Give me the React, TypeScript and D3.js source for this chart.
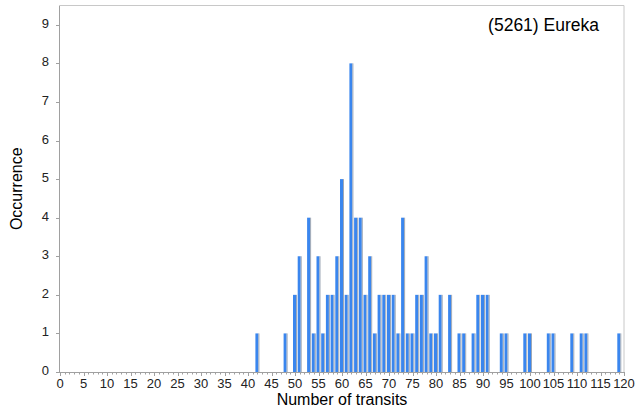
import * as d3 from "d3";

const transits = [42, 48, 50, 51, 53, 54, 55, 56, 57, 58, 59, 60, 61, 62, 63, 64, 65, 66, 67, 68, 69, 70, 71, 72, 73, 74, 75, 76, 77, 78, 79, 80, 81, 83, 85, 86, 88, 89, 90, 91, 94, 95, 99, 100, 104, 105, 109, 111, 112, 119];
const occurrences = [1, 1, 2, 3, 4, 1, 3, 1, 2, 2, 3, 5, 2, 8, 4, 4, 2, 3, 1, 2, 2, 2, 2, 1, 4, 1, 1, 2, 2, 3, 1, 1, 2, 2, 1, 1, 1, 2, 2, 2, 1, 1, 1, 1, 1, 1, 1, 1, 1, 1];
const yTicks = [0, 1, 2, 3, 4, 5, 6, 7, 8, 9];
const xMajorTicks = d3.range(0, 121, 5);
const xMinorTicks = d3.range(0, 121, 1);

const title = "(5261) Eureka";
const xTitle = "Number of transits";
const yTitle = "Occurrence";

const W = 637;
const H = 412;
const margin = { left: 60, right: 13, top: 5.5, bottom: 40 };
const font = "Liberation Sans, Arial, sans-serif";

export default function App() {
  const x = d3.scaleLinear().domain([0, 120]).range([margin.left, W - margin.right]);
  const y = d3.scaleLinear().domain([0, 9.5]).range([H - margin.bottom, margin.top]);
  const x0 = x(0);
  const x1 = x(120);
  const y0 = y(0);
  const yTop = y(9.5);

  const bars = transits.map((t, i) => ({ t, n: occurrences[i] }));

  return (
    <svg width={W} height={H} style={{ position: "absolute", left: 0, top: 0, background: "#fff" }} fontFamily={font}>
      {/* frame */}
      <line x1={x0} x2={x1} y1={yTop} y2={yTop} stroke="#c8c8c8" />
      <line x1={x1} x2={x1} y1={yTop} y2={y0} stroke="#c8c8c8" />

      {/* bars */}
      {bars.map((b) => (
        <g key={b.t}>
          <rect x={x(b.t) - 2} y={y(b.n)} width={3} height={y0 - y(b.n)} fill="#3a86ee" />
          <rect x={x(b.t) + 1} y={y(b.n)} width={1} height={y0 - y(b.n)} fill="#9ea8b6" />
        </g>
      ))}

      {/* y axis */}
      <line x1={x0 - 0.5} x2={x0 - 0.5} y1={yTop} y2={y0} stroke="#a0a0a0" />
      {yTicks.map((v) => (
        <g key={v}>
          <line x1={x0 - 4} x2={x0} y1={Math.round(y(v)) + 0.5} y2={Math.round(y(v)) + 0.5} stroke="#a0a0a0" />
          <text x={49} y={y(v) - 1.5} dy="0.35em" textAnchor="end" fontSize={13} fill="#222">{v}</text>
        </g>
      ))}

      {/* x axis */}
      <line x1={x0} x2={x1} y1={Math.round(y0) + 0.5} y2={Math.round(y0) + 0.5} stroke="#a0a0a0" />
      {xMinorTicks.map((v) => (
        <line key={v} x1={Math.round(x(v)) + 0.5} x2={Math.round(x(v)) + 0.5} y1={y0} y2={y0 + (v % 5 === 0 ? 4 : 2.5)} stroke="#a0a0a0" />
      ))}
      {xMajorTicks.map((v) => (
        <text key={v} x={x(v)} y={388} textAnchor="middle" fontSize={13} fill="#222">{v}</text>
      ))}

      {/* titles */}
      <text x={(x0 + x1) / 2} y={405} textAnchor="middle" fontSize={16} fill="#000">{xTitle}</text>
      <text transform={`translate(22, ${(yTop + y0) / 2}) rotate(-90)`} textAnchor="middle" fontSize={16} fill="#000">{yTitle}</text>
      <text x={599} y={31} textAnchor="end" fontSize={17.5} fill="#000">{title}</text>
    </svg>
  );
}
